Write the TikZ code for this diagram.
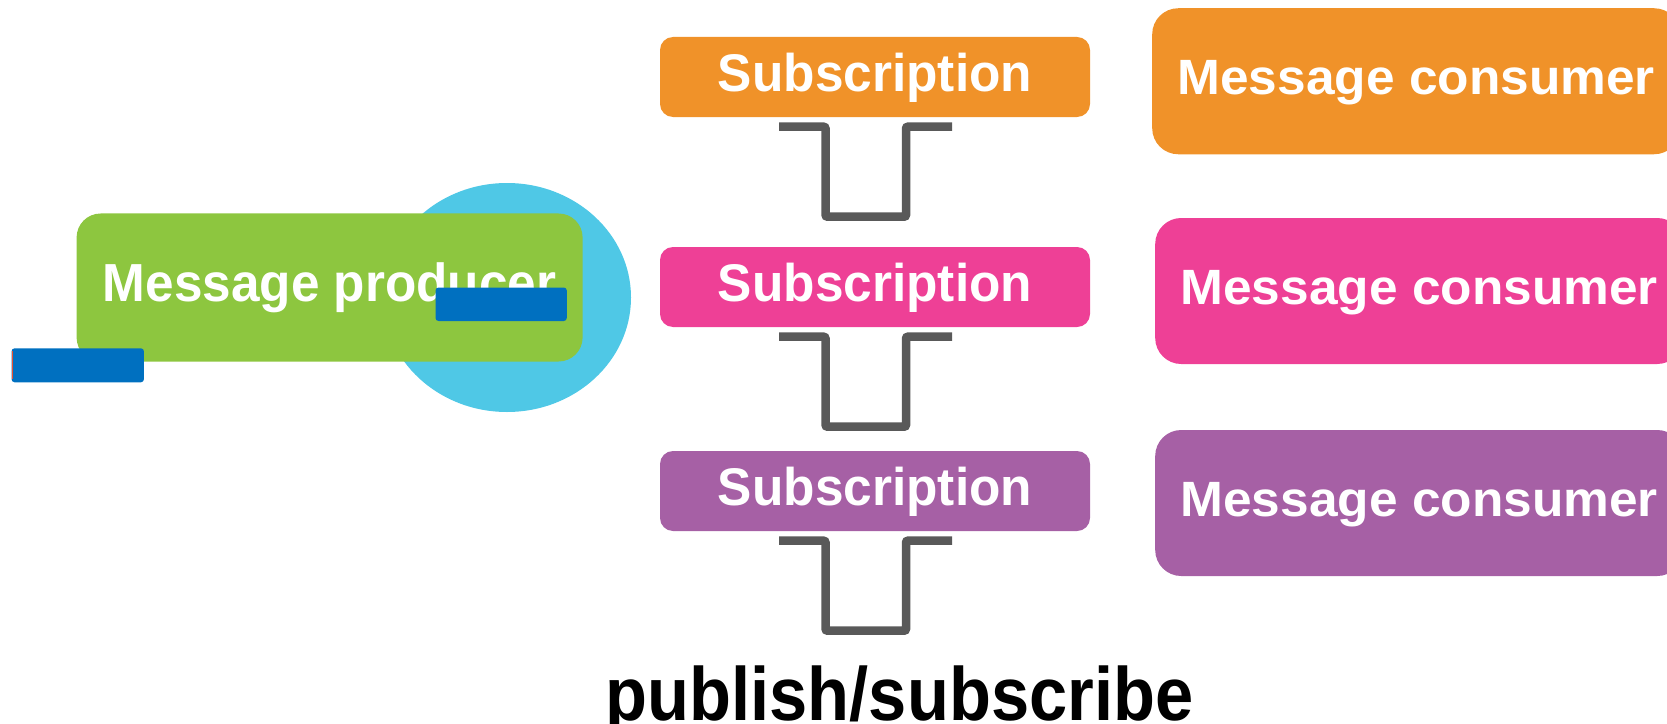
\documentclass[tikz,border=0pt]{standalone}
\usepackage{fontspec}
\setmainfont{Liberation Sans}
% bold faces with slightly different set widths per box type
\newfontfamily\subfont[FakeStretch=0.97]{Liberation Sans Bold}
\newfontfamily\prodfont[FakeStretch=0.957]{Liberation Sans Bold}
\newfontfamily\consfont[FakeStretch=1.037]{Liberation Sans Bold}
\newfontfamily\capfont[FakeStretch=0.909]{Liberation Sans Bold}
\usetikzlibrary{calc}
\definecolor{prodGreen}{RGB}{141,198,63}
\definecolor{topicCyan}{RGB}{79,200,230}
\definecolor{markBlue}{RGB}{0,112,192}
\definecolor{edgeRed}{RGB}{230,80,50}
\definecolor{tintOrange}{RGB}{240,146,41}
\definecolor{tintPink}{RGB}{238,64,150}
\definecolor{tintPurple}{RGB}{166,96,165}
\definecolor{pipeGray}{RGB}{89,89,89}
\begin{document}
\begin{tikzpicture}[x=1bp,y=-1bp,
  card/.style={rectangle, inner sep=0pt, text=white},
  subbox/.style={card, fill=#1, rounded corners=13bp, minimum width=430bp,
    minimum height=80bp, font=\fontsize{53bp}{60bp}\subfont,
    text height=38bp, text depth=9bp},
  consbox/.style={card, fill=#1, rounded corners=26bp, minimum width=528bp,
    minimum height=146bp, anchor=west, font=\fontsize{49.6bp}{58bp}\consfont,
    text height=35.5bp, text depth=9.5bp},
  marker/.style={fill=markBlue, rounded corners=3bp},
  queue/.style={draw=pipeGray, line width=8.5bp, rounded corners=2bp}]
\useasboundingbox (0,0) rectangle (1667,724);
\clip (0,0) rectangle (1667,724);

% producer side
\fill[topicCyan] (507,297.5) ellipse [x radius=124, y radius=114.5];
\node[card, fill=prodGreen, rounded corners=24bp, minimum width=506bp,
  minimum height=148bp, font=\fontsize{53.6bp}{60bp}\prodfont,
  text height=38.4bp, text depth=10bp] (prod) at (329.6,287.5) {Message producer};
\coordinate (m1a) at (435.5,287.5);
\coordinate (m1b) at (566.8,321);
\fill[marker] (m1a) rectangle (m1b);
\coordinate (m2a) at (11.6,348.3);
\coordinate (m2b) at (143.9,382.3);
\fill[marker] (m2a) rectangle (m2b);
\draw[edgeRed, line width=1.2bp] ($(m2a)+(0.6,3)$) -- ($(m2a|-m2b)+(0.6,-3)$);

% subscriptions
\node[subbox=tintOrange] (s1) at (875,77) {Subscription};
\node[subbox=tintPink] (s2) at (875,287) {Subscription};
\node[subbox=tintPurple] (s3) at (875,491) {Subscription};

% queue symbols under each subscription
\foreach \s in {s1,s2,s3}{
  \draw[queue] ($(\s.south)+(-96,9.5)$) -- ++(46.5,0) -- ++(0,90)
    -- ++(80.5,0) -- ++(0,-90) -- ++(46,0);
}

% consumers
\node[consbox=tintOrange] (c1) at (1152,81.25) {Message consumer};
\node[consbox=tintPink] (c2) at (1155,291) {Message consumer};
\node[consbox=tintPurple] (c3) at (1155,503) {Message consumer};

% caption
\node[anchor=base, inner sep=0pt, font=\fontsize{75.5bp}{84bp}\capfont]
  (title) at (899.5,720) {publish/subscribe};
\end{tikzpicture}
\end{document}
